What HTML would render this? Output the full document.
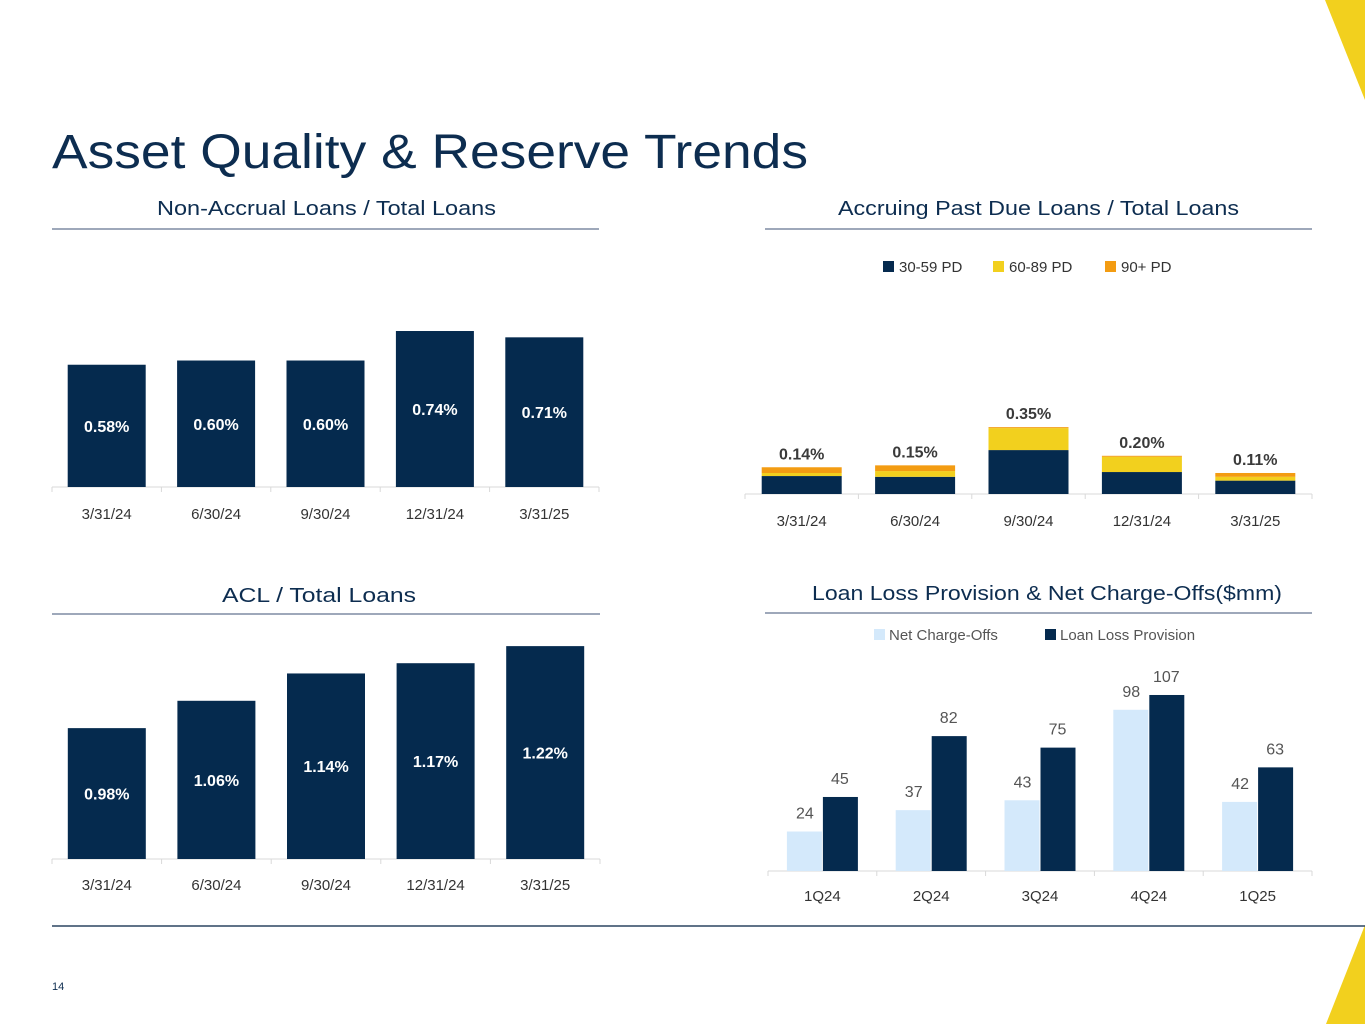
<!DOCTYPE html>
<html><head><meta charset="utf-8"><style>
body{margin:0;background:#fff;}
svg{display:block;font-family:"Liberation Sans",sans-serif;}
</style></head><body>
<svg id="s" width="1365" height="1024" viewBox="0 0 1365 1024">
<polygon points="1325,0 1365,0 1365,100" fill="#f2d01e"/>
<polygon points="1365,925 1365,1024 1326,1024" fill="#f2d01e"/>
<text x="52" y="168" font-size="48" fill="#0d2d50" textLength="756" lengthAdjust="spacingAndGlyphs">Asset Quality &amp; Reserve Trends</text>
<text x="157" y="215" font-size="20" fill="#0d2d50" textLength="339" lengthAdjust="spacingAndGlyphs">Non-Accrual Loans / Total Loans</text>
<line x1="52" y1="229" x2="599" y2="229" stroke="#7f8ba3" stroke-width="1.5"/>
<text x="838" y="215" font-size="20" fill="#0d2d50" textLength="401" lengthAdjust="spacingAndGlyphs">Accruing Past Due Loans / Total Loans</text>
<line x1="765" y1="229" x2="1312" y2="229" stroke="#7f8ba3" stroke-width="1.5"/>
<text x="222" y="602" font-size="20" fill="#0d2d50" textLength="194" lengthAdjust="spacingAndGlyphs">ACL / Total Loans</text>
<line x1="52" y1="614" x2="600" y2="614" stroke="#7f8ba3" stroke-width="1.5"/>
<text x="812" y="600" font-size="20" fill="#0d2d50" textLength="470" lengthAdjust="spacingAndGlyphs">Loan Loss Provision &amp; Net Charge-Offs($mm)</text>
<line x1="765" y1="613" x2="1312" y2="613" stroke="#7f8ba3" stroke-width="1.5"/>
<line x1="52" y1="926" x2="1365" y2="926" stroke="#2c4560" stroke-width="1.5"/>
<text x="52" y="990" font-size="11" fill="#0d2d50">14</text>

<rect x="883" y="261" width="11" height="11" fill="#052a4e"/>
<text x="899" y="272" font-size="15" fill="#333">30-59 PD</text>
<rect x="993" y="261" width="11" height="11" fill="#f2d01e"/>
<text x="1009" y="272" font-size="15" fill="#333">60-89 PD</text>
<rect x="1105" y="261" width="11" height="11" fill="#f39c12"/>
<text x="1121" y="272" font-size="15" fill="#333">90+ PD</text>

<rect x="874" y="629" width="11" height="11" fill="#d4e9fb"/>
<text x="889" y="640" font-size="15" fill="#555">Net Charge-Offs</text>
<rect x="1045" y="629" width="11" height="11" fill="#052a4e"/>
<text x="1060" y="640" font-size="15" fill="#555">Loan Loss Provision</text>
</svg>
<script>
const dates = ["3/31/24","6/30/24","9/30/24","12/31/24","3/31/25"];
const nonAccrual = [0.58,0.60,0.60,0.74,0.71];
const acl = [0.98,1.06,1.14,1.17,1.22];
const pd3059 = [0.094,0.09,0.23,0.115,0.07];
const pd6089 = [0.016,0.03,0.115,0.08,0.02];
const pd90 = [0.03,0.03,0.005,0.005,0.02];
const pdTotals = ["0.14%","0.15%","0.35%","0.20%","0.11%"];
const quarters = ["1Q24","2Q24","3Q24","4Q24","1Q25"];
const nco = [24,37,43,98,42];
const provision = [45,82,75,107,63];

const S = document.getElementById('s');
const NS = 'http://www.w3.org/2000/svg';
function mk(tag, at){const e=document.createElementNS(NS,tag);for(const k in at)e.setAttribute(k,at[k]);S.appendChild(e);return e;}
function txt(x,y,s,size,fill,weight){const t=mk('text',{x:x,y:y,'font-size':size,fill:fill,'text-anchor':'middle','font-weight':weight||'normal'});t.textContent=s;return t;}

function axis(x0,x1,y,n,prefix,labels,labelY){
  const l=mk('line',{x1:x0,y1:y,x2:x1,y2:y,stroke:'#d9d9d9','stroke-width':1});
  
  
  const w=(x1-x0)/n;
  for(let i=0;i<=n;i++){const t=mk('line',{x1:x0+i*w,y1:y,x2:x0+i*w,y2:y+5,stroke:'#d9d9d9'});
    
    }
  labels.forEach((s,i)=>{const t=txt(x0+(i+0.5)*w,labelY,s,15,'#333');
    
    });
  return w;
}

(function(){
  const x0=52,x1=599,base=487,k=210.8,bw=78;
  const w=axis(x0,x1,base,5,'nonaccrual',dates,519);
  nonAccrual.forEach((v,i)=>{
    const h=v*k,cx=x0+(i+0.5)*w;
    const r=mk('rect',{x:cx-bw/2,y:base-h,width:bw,height:h,fill:'#052a4e'});
    
    
    const t=txt(cx,base-h/2+6,v.toFixed(2)+'%',16,'#fff','bold');
    
    
  });
})();

(function(){
  const x0=52,x1=600,base=859,k=341.7,min=0.597,bw=78;
  const w=axis(x0,x1,base,5,'acl',dates,890);
  acl.forEach((v,i)=>{
    const h=(v-min)*k,cx=x0+(i+0.5)*w;
    const r=mk('rect',{x:cx-bw/2,y:base-h,width:bw,height:h,fill:'#052a4e'});
    
    
    const t=txt(cx,base-h/2+6,v.toFixed(2)+'%',16,'#fff','bold');
    
    
  });
})();

(function(){
  const x0=745,x1=1312,base=494,k=191,bw=80;
  const w=axis(x0,x1,base,5,'pastdue',dates,526);
  const series=[[pd3059,'#052a4e'],[pd6089,'#f2d01e'],[pd90,'#f39c12']];
  dates.forEach((d,i)=>{
    const cx=x0+(i+0.5)*w;let y=base;
    series.forEach(([arr,c])=>{
      const h=arr[i]*k;y-=h;
      const r=mk('rect',{x:cx-bw/2,y:y,width:bw,height:h,fill:c});
      
      
    });
    const t=txt(cx,y-8,pdTotals[i],16,'#3a3a3a','bold');
    
    
  });
})();

(function(){
  const x0=768,x1=1312,base=871,k=1.645,bw=35;
  const w=axis(x0,x1,base,5,'provision',quarters,901);
  quarters.forEach((q,i)=>{
    const cx=x0+(i+0.5)*w;
    const h1=nco[i]*k,h2=provision[i]*k;
    const r1=mk('rect',{x:cx-bw-0.5,y:base-h1,width:bw,height:h1,fill:'#d4e9fb'});
    
    
    const r2=mk('rect',{x:cx+0.5,y:base-h2,width:bw,height:h2,fill:'#052a4e'});
    
    
    const t1=txt(cx-bw/2,base-h1-13,String(nco[i]),16,'#555');
    
    
    const t2=txt(cx+bw/2,base-h2-13,String(provision[i]),16,'#555');
    
    
  });
})();
</script>
</body></html>
